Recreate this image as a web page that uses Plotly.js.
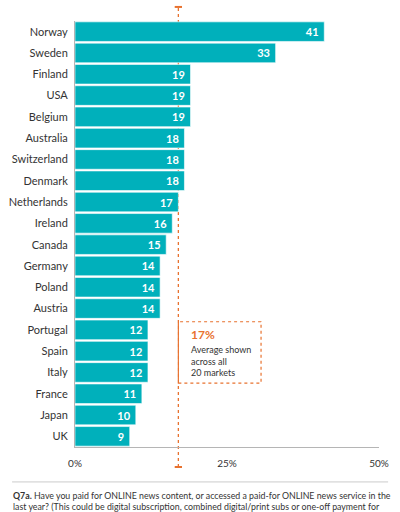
<!DOCTYPE html>
<html>
<head>
<meta charset="utf-8">
<script src="https://cdn.plot.ly/plotly-3.0.1.min.js"></script>
<style>
  html, body { margin: 0; padding: 0; background: #fff; }
  #chart { width: 400px; height: 512px; }
</style>
</head>
<body>
<div id="chart"></div>
<script>
// share who paid for online news, by market
var countries = ["Norway", "Sweden", "Finland", "USA", "Belgium", "Australia",
    "Switzerland", "Denmark", "Netherlands", "Ireland", "Canada", "Germany",
    "Poland", "Austria", "Portugal", "Spain", "Italy", "France", "Japan", "UK"];
var paidPct = [41, 33, 19, 19, 19, 18, 18, 18, 17, 16, 15, 14, 14, 14, 12, 12, 12, 11, 10, 9];
var averagePct = 17;
var xTicks = [0, 25, 50];
var xTickText = ["0%", "25%", "50%"];

var teal = "#00b0bb";
var orange = "#e8722f";
var ink = "#333333";

var trace = {
    type: "bar",
    orientation: "h",
    x: paidPct,
    y: countries,
    text: paidPct,
    texttemplate: "%{text}\u00a0",
    textposition: "inside",
    insidetextanchor: "end",
    textfont: { family: "Lato", size: 11, color: "#ffffff", weight: "bold" },
    marker: { color: teal, line: { color: "#ffffff", width: 0.6 } },
    hoverinfo: "none"
};

var layout = {
    width: 400,
    height: 512,
    margin: { l: 75, r: 21, t: 21, b: 65 },
    paper_bgcolor: "#ffffff",
    plot_bgcolor: "#ffffff",
    showlegend: false,
    bargap: 0.08,
    font: { family: "Lato", color: ink },
    xaxis: {
        range: [0, 50],
        tickvals: xTicks,
        ticktext: xTickText,
        showgrid: false,
        zeroline: false,
        showline: true,
        linecolor: "#b5b5b5",
        linewidth: 1,
        ticks: "",
        ticklabelstandoff: 7,
        tickfont: { family: "Lato", size: 10, color: ink },
        fixedrange: true
    },
    yaxis: {
        type: "category",
        categoryorder: "array",
        categoryarray: countries,
        autorange: "reversed",
        showgrid: false,
        zeroline: false,
        showline: true,
        linecolor: "#b5b5b5",
        linewidth: 1,
        ticks: "",
        ticklabelstandoff: 4,
        tickfont: { family: "Lato", size: 11, color: ink },
        fixedrange: true
    },
    shapes: [
        // average marker line (behind the bars) with end caps
        { type: "line", layer: "below", xref: "x", yref: "paper", x0: averagePct, x1: averagePct,
          y0: -0.047, y1: 1.033, line: { color: orange, width: 1.3, dash: "dot" } },
        { type: "line", xref: "x", yref: "paper", x0: averagePct - 0.6, x1: averagePct + 0.6,
          y0: 1.033, y1: 1.033, line: { color: orange, width: 2 } },
        { type: "line", xref: "x", yref: "paper", x0: averagePct - 0.6, x1: averagePct + 0.6,
          y0: -0.047, y1: -0.047, line: { color: orange, width: 2 } },
        // callout box
        { type: "rect", xref: "x", yref: "paper", x0: averagePct, x1: 30.6,
          y0: 0.150, y1: 0.294, line: { color: orange, width: 1.2, dash: "dot" } },
        // footer rule
        { type: "line", xref: "paper", yref: "paper", x0: -0.207, x1: 1.03,
          y0: -0.082, y1: -0.082, line: { color: "#cccccc", width: 1 } }
    ],
    annotations: [
        { xref: "x", yref: "paper", x: averagePct + 1.7, y: 0.263, xanchor: "left", yanchor: "middle",
          text: "<b>" + averagePct + "%</b>", showarrow: false,
          font: { family: "Lato", size: 12, color: orange } },
        { xref: "x", yref: "paper", x: averagePct + 1.7, y: 0.246, xanchor: "left", yanchor: "top",
          text: "Average shown<br>across all<br>" + countries.length + " markets", align: "left",
          showarrow: false, font: { family: "Lato", size: 9, color: ink } },
        { xref: "paper", yref: "paper", x: -0.21, y: -0.097, xanchor: "left", yanchor: "top",
          align: "left", showarrow: false,
          text: "<b>Q7a.</b> Have you paid for ONLINE news content, or accessed a paid-for ONLINE news service in the<br>" +
                "last year? (This could be digital subscription, combined digital/print subs or one-off payment for",
          font: { family: "Lato", size: 8.8, color: ink } }
    ]
};

Plotly.newPlot("chart", [trace], layout, { displayModeBar: false, staticPlot: true });
</script>
</body>
</html>
